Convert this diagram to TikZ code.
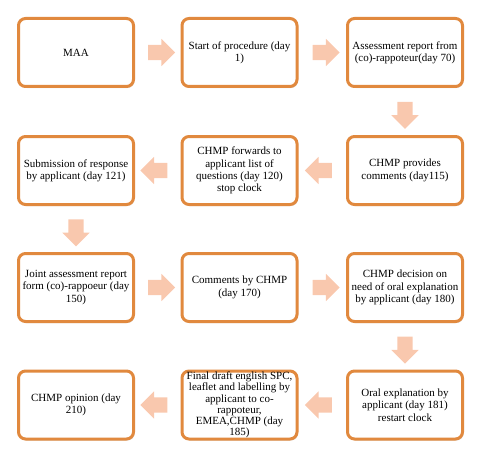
\documentclass[tikz,border=0pt]{standalone}
\usepackage{fontspec}
\setmainfont{Liberation Serif}
\usepackage{tikz}
\usetikzlibrary{shapes,shapes.arrows,shadows}

\definecolor{boxline}{RGB}{225,137,62}
\definecolor{peach}{RGB}{249,200,174}

\tikzset{
  stage/.style={draw=boxline,line width=3pt,rounded corners=7pt,fill=white,
    minimum width=115pt,minimum height=68pt,inner sep=0pt,align=center,
    font=\fontsize{11}{12.3}\selectfont,
    drop shadow={shadow xshift=1pt,shadow yshift=-1.5pt,opacity=.25}},
  flow/.style={single arrow,fill=peach,draw=none,inner sep=7.5pt,
    minimum height=27pt,minimum width=27pt,single arrow head extend=6pt},
  toright/.style={flow},
  toleft/.style={flow,shape border rotate=180},
  todown/.style={flow,shape border rotate=270}
}

\begin{document}
\begin{tikzpicture}[x=1pt,y=-1pt]
\useasboundingbox (0,0) rectangle (482,460);
\node[stage](A) at (76,52.5) {MAA};
\node[stage](B) at (239.5,52.5) {Start of procedure (day\\1)};
\node[stage](C) at (405,52.5) {Assessment report from\\(co)-rappoteur(day 70)};
\node[stage](D) at (405,170.5) {CHMP provides\\comments (day115)};
\node[stage](E) at (239.5,170.5) {CHMP forwards to\\applicant list of\\questions (day 120)\\stop clock};
\node[stage](F) at (76,170.5) {Submission of response\\by applicant (day 121)};
\node[stage](G) at (76,287.5) {Joint assessment report\\form (co)-rappoeur (day\\150)};
\node[stage](H) at (239.5,287.5) {Comments by CHMP\\(day 170)};
\node[stage](I) at (405,287.5) {CHMP decision on\\need of oral explanation\\by applicant (day 180)};
\node[stage](J) at (405,405) {Oral explanation by\\applicant (day 181)\\restart clock};
\node[stage,font=\fontsize{11}{11.2}\selectfont](K) at (239.5,405) {Final draft english SPC,\\leaflet and labelling by\\applicant to co-\\rappoteur,\\EMEA,CHMP (day\\185)};
\node[stage](L) at (76,405) {CHMP opinion (day\\210)};
\path (A) -- node[toright]{} (B);
\path (B) -- node[toright]{} (C);
\path (C) -- node[todown]{} (D);
\path (D) -- node[toleft]{} (E);
\path (E) -- node[toleft]{} (F);
\path (F) -- node[todown]{} (G);
\path (G) -- node[toright]{} (H);
\path (H) -- node[toright]{} (I);
\path (I) -- node[todown]{} (J);
\path (J) -- node[toleft]{} (K);
\path (K) -- node[toleft]{} (L);
\end{tikzpicture}
\end{document}
